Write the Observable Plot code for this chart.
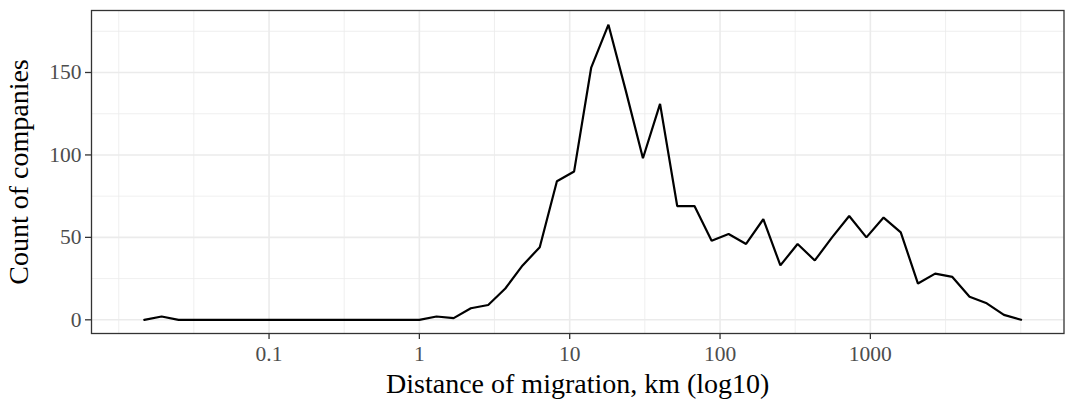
<!DOCTYPE html>
<html><head><meta charset="utf-8">
<script src="https://cdn.jsdelivr.net/npm/d3@7"></script>
<script src="https://cdn.jsdelivr.net/npm/@observablehq/plot@0.6"></script>
<style>
html,body{margin:0;padding:0;background:#fff;}
#chart svg{display:block;}
</style></head><body><div id="chart"></div>
<script>
// Bin centres (km) of the frequency polygon
const distKm = [0.0148, 0.0193, 0.0250, 0.0326, 0.0424, 0.0552, 0.0718, 0.0935, 0.122, 0.158,
  0.206, 0.268, 0.349, 0.454, 0.590, 0.768, 1.00, 1.30, 1.69, 2.20, 2.87, 3.73, 4.86, 6.32, 8.22,
  10.7, 13.9, 18.1, 23.6, 30.7, 39.9, 51.9, 67.6, 87.9, 114, 149, 194, 252, 328, 427, 556, 723,
  941, 1224, 1593, 2073, 2698, 3511, 4568, 5943, 7733, 10060];
// Count of companies in each bin
const counts = [0, 2, 0, 0, 0, 0, 0, 0, 0, 0, 0, 0, 0, 0, 0, 0, 0,
  2, 1, 7, 9, 19, 33, 44, 84, 90, 153, 179, 139, 98, 131, 69, 69, 48, 52, 46, 61,
  33, 46, 36, 50, 63, 50, 62, 53, 22, 28, 26, 14, 10, 3, 0];

const xTicks = [0.1, 1, 10, 100, 1000];
const xTickLabels = ["0.1", "1", "10", "100", "1000"];
const xMinor = [0.01, 0.0316, 0.316, 3.16, 31.6, 316, 3162, 10000];
const yTicks = [0, 50, 100, 150];
const yTickLabels = ["0", "50", "100", "150"];
const yMinor = [25, 75, 125, 175];
const xTitle = "Distance of migration, km (log10)";
const yTitle = "Count of companies";

const data = distKm.map((d, i) => ({dist: d, count: counts[i]}));
const font = "'Liberation Serif', 'Times New Roman', serif";

const plot = Plot.plot({
  width: 1065, height: 400,
  marginLeft: 91, marginRight: 1.5, marginTop: 10, marginBottom: 67,
  style: {fontFamily: font, background: "#fff", overflow: "visible"},
  x: {type: "log", domain: [Math.pow(10, -2.181), Math.pow(10, 4.288)], axis: null},
  y: {domain: [-8.3, 187.6], axis: null},
  marks: [
    Plot.ruleX(xMinor, {stroke: "#EBEBEB", strokeWidth: 0.8}),
    Plot.ruleY(yMinor, {stroke: "#EBEBEB", strokeWidth: 0.8}),
    Plot.ruleX(xTicks, {stroke: "#EBEBEB", strokeWidth: 1.6}),
    Plot.ruleY(yTicks, {stroke: "#EBEBEB", strokeWidth: 1.6}),
    Plot.line(data, {x: "dist", y: "count", stroke: "#000", strokeWidth: 2.2, strokeLinejoin: "miter"}),
    Plot.frame({stroke: "#333333", strokeWidth: 1.3}),
    Plot.axisX(xTicks, {anchor: "bottom", tickSize: 6, tickPadding: 6, fontSize: 21.5,
      stroke: "#333333", fill: "#4D4D4D", strokeWidth: 1.3, label: null,
      tickFormat: d => xTickLabels[xTicks.indexOf(d)]}),
    Plot.axisY(yTicks, {anchor: "left", tickSize: 6, tickPadding: 4, fontSize: 21.5,
      stroke: "#333333", fill: "#4D4D4D", strokeWidth: 1.3, label: null,
      tickFormat: d => yTickLabels[yTicks.indexOf(d)]}),
    Plot.text([xTitle], {frameAnchor: "bottom", dy: 59, fontSize: 28, fill: "#000", text: d => d}),
    Plot.text([yTitle], {frameAnchor: "left", textAnchor: "middle", rotate: -90, dx: -72, fontSize: 28, fill: "#000", text: d => d})
  ]
});
document.getElementById("chart").appendChild(plot);
</script>
</body></html>
